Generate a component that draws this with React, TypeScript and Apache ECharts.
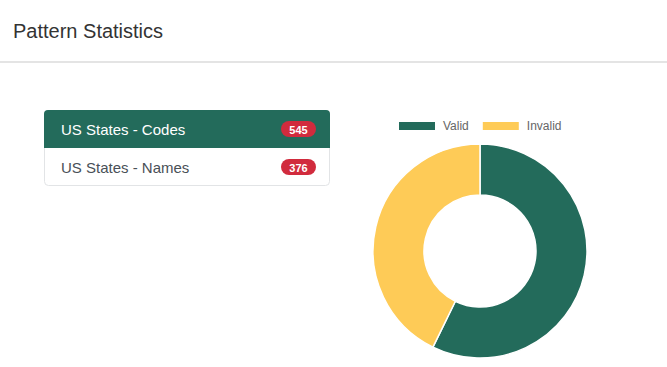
import React, { useEffect, useRef } from "react";
import * as echarts from "echarts";

const pageTitle = "Pattern Statistics";
const patternNames = ["US States - Codes", "US States - Names"];
const patternCounts = [545, 376];
const statusLabels = ["Valid", "Invalid"];
const statusValues = [312, 233];
const statusColors = ["#236b5b", "#fecb57"];

const FONT = "'Liberation Sans', Arial, Helvetica, sans-serif";

export default function App() {
  const ref = useRef<HTMLDivElement>(null);

  useEffect(() => {
    if (!ref.current) return;
    const chart = echarts.init(ref.current, undefined, { renderer: "svg" });

    const listLeft = 44;
    const listTop = 110;
    const listWidth = 286;
    const itemH = 38;

    const graphics: any[] = [
      {
        type: "text",
        x: 13,
        y: 31,
        style: {
          text: pageTitle,
          fill: "#333333",
          fontSize: 20,
          fontFamily: FONT,
          verticalAlign: "middle",
        },
      },
      {
        type: "rect",
        shape: { x: 0, y: 61, width: 667, height: 2 },
        style: { fill: "#e4e4e4" },
      },
      {
        type: "rect",
        shape: {
          x: listLeft + 0.5,
          y: listTop + 0.5,
          width: listWidth - 1,
          height: itemH * patternNames.length - 1,
          r: 4,
        },
        style: { fill: "#ffffff", stroke: "#e2e4e6", lineWidth: 1 },
      },
    ];

    patternNames.forEach((name, i) => {
      const top = listTop + i * itemH;
      const active = i === 0;
      if (active) {
        graphics.push({
          type: "rect",
          shape: {
            x: listLeft,
            y: top,
            width: listWidth,
            height: itemH,
            r: [4, 4, 0, 0],
          },
          style: { fill: statusColors[0] },
        });
      }
      const cy = top + itemH / 2;
      graphics.push({
        type: "text",
        x: 61,
        y: cy + 0.5,
        style: {
          text: name,
          fill: active ? "#ffffff" : "#495057",
          fontSize: 15,
          fontFamily: FONT,
          verticalAlign: "middle",
        },
      });
      graphics.push({
        type: "rect",
        shape: { x: 281, y: cy - 8, width: 35, height: 16, r: 8 },
        style: { fill: "#d12b3d" },
      });
      graphics.push({
        type: "text",
        x: 298.5,
        y: cy + 0.5,
        style: {
          text: String(patternCounts[i]),
          fill: "#ffffff",
          fontSize: 11,
          fontWeight: "bold",
          fontFamily: FONT,
          align: "center",
          verticalAlign: "middle",
        },
      });
    });

    chart.setOption({
      animation: false,
      legend: {
        data: statusLabels,
        left: 397,
        top: 120,
        padding: 0,
        itemWidth: 38,
        itemHeight: 10,
        itemGap: 12,
        icon: "rect",
        selectedMode: false,
        textStyle: {
          color: "#666666",
          fontSize: 12,
          fontFamily: FONT,
          padding: [0, 0, 0, 2],
        },
      },
      graphic: graphics,
      series: [
        {
          type: "pie",
          center: [480, 251],
          radius: [56, 107],
          startAngle: 90,
          clockwise: true,
          label: { show: false },
          labelLine: { show: false },
          emphasis: { disabled: true },
          itemStyle: { borderColor: "#ffffff", borderWidth: 1.5 },
          data: statusLabels.map((n, i) => ({
            name: n,
            value: statusValues[i],
            itemStyle: { color: statusColors[i] },
          })),
        },
      ],
    });

    return () => chart.dispose();
  }, []);

  return (
    <div
      ref={ref}
      style={{
        position: "fixed",
        left: 0,
        top: 0,
        width: 667,
        height: 367,
        background: "#ffffff",
      }}
    />
  );
}
